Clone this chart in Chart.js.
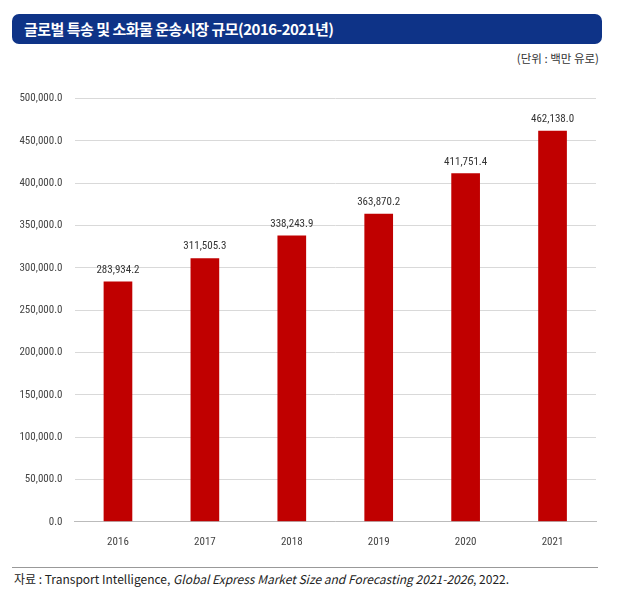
<!DOCTYPE html>
<html>
<head>
<meta charset="utf-8">
<script src="https://cdn.jsdelivr.net/npm/chart.js@4"></script>
<style>
  body { margin: 0; background: #fff; width: 623px; height: 599px; position: relative; overflow: hidden;
         font-family: 'Noto Sans CJK KR', sans-serif; }
  #title { position: absolute; left: 12px; top: 14px; width: 590px; height: 30px; background: #0e3387;
           border-radius: 7px; color: #fff; font-size: 15px; font-weight: bold; line-height: 30px;
           padding-left: 12px; box-sizing: border-box; letter-spacing: -0.5px; }
  #unit { position: absolute; right: 24px; top: 50px; font-size: 11.5px; color: #333; }
  #wrap { position: absolute; left: 0; top: 80px; width: 610px; height: 475px; }
  #line { position: absolute; left: 12px; top: 567px; width: 586px; height: 1px; background: #999; }
  #src { position: absolute; left: 14px; top: 570px; font-size: 12px; color: #222; font-family: 'Noto Sans CJK KR', 'Liberation Sans', sans-serif; }
</style>
</head>
<body>
<div id="title">글로벌 특송 및 소화물 운송시장 규모(2016-2021년)</div>
<div id="unit">(단위 : 백만 유로)</div>
<div id="wrap"><canvas id="c"></canvas></div>
<div id="line"></div>
<div id="src">자료 : Transport Intelligence, <i>Global Express Market Size and Forecasting 2021-2026</i>, 2022.</div>
<script>
const years  = ['2016', '2017', '2018', '2019', '2020', '2021'];
const values = [283934.2, 311505.3, 338243.9, 363870.2, 411751.4, 462138.0];
const yTicks = [0, 50000, 100000, 150000, 200000, 250000, 300000, 350000, 400000, 450000, 500000];

const fmt = v => v.toLocaleString('en-US', { minimumFractionDigits: 1, maximumFractionDigits: 1 });
const numFont = "'Liberation Sans Narrow', 'Roboto Condensed', 'Liberation Sans', sans-serif";

// draws the value above each bar
const valueLabels = {
  id: 'valueLabels',
  afterDatasetsDraw(chart) {
    const ctx = chart.ctx;
    ctx.save();
    ctx.font = '11px ' + numFont;
    ctx.fillStyle = '#333';
    ctx.textAlign = 'center';
    ctx.textBaseline = 'bottom';
    chart.getDatasetMeta(0).data.forEach((bar, i) => {
      ctx.fillText(fmt(values[i]), bar.x, bar.y - 6);
    });
    ctx.restore();
  }
};

new Chart(document.getElementById('c'), {
  type: 'bar',
  data: {
    labels: years,
    datasets: [{ data: values, backgroundColor: '#c00000', barPercentage: 0.33, categoryPercentage: 1 }],
  },
  options: {
    responsive: true,
    maintainAspectRatio: false,
    animation: false,
    layout: { padding: { top: 10, right: 14, bottom: 0, left: 0 } },
    plugins: { legend: { display: false }, tooltip: { enabled: false } },
    scales: {
      x: {
        grid: { display: false },
        border: { color: '#bbb' },
        ticks: { color: '#444', font: { family: numFont, size: 11 }, padding: 6 },
      },
      y: {
        min: 0, max: 500000,
        afterFit(s) { s.width = 74.5; },
        afterBuildTicks(s) { s.ticks = yTicks.map(v => ({ value: v })); },
        grid: { color: '#d9d9d9', drawTicks: false },
        border: { display: false },
        ticks: { color: '#444', font: { family: numFont, size: 11 }, padding: 12, callback: v => fmt(v) },
      },
    },
  },
  plugins: [valueLabels],
});
</script>
</body>
</html>
